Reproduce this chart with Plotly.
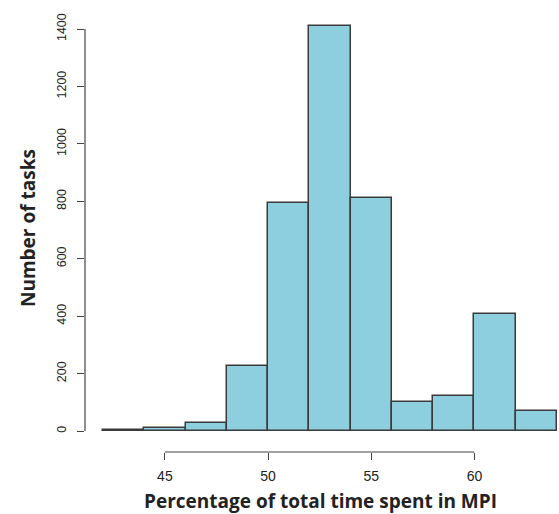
import plotly.graph_objects as go

# Histogram data (bins of width 2 from 42 to 64)
bin_edges = [42, 44, 46, 48, 50, 52, 54, 56, 58, 60, 62, 64]
counts = [4, 10, 28, 226, 793, 1412, 813, 101, 122, 408, 70]
x_ticks = [45, 50, 55, 60]
y_ticks = [0, 200, 400, 600, 800, 1000, 1200, 1400]

centers = [(a + b) / 2 for a, b in zip(bin_edges[:-1], bin_edges[1:])]
widths = [b - a for a, b in zip(bin_edges[:-1], bin_edges[1:])]

fig = go.Figure(go.Bar(
    x=centers, y=counts, width=widths,
    marker=dict(color="#8ECFDF", line=dict(color="#3a3a3a", width=1.5)),
    hoverinfo="x+y",
))

W, H = 559, 514
L, R, T, B = 85, 0, 20, 62

fig.update_layout(
    width=W, height=H,
    margin=dict(l=L, r=R, t=T, b=B, autoexpand=False),
    plot_bgcolor="white", paper_bgcolor="white",
    showlegend=False,
    bargap=0,
    xaxis=dict(range=[41.128, 64.097], tickvals=x_ticks, ticks="outside", ticklen=7,
               tickcolor="#444", tickwidth=1.2, showgrid=False, zeroline=False, showline=False,
               automargin=False, ticklabelstandoff=4,
               tickfont=dict(family="Liberation Sans", size=14, color="#222")),
    yaxis=dict(range=[-73, 1431.5], tickvals=y_ticks, ticks="outside", ticklen=7,
               tickcolor="#444", tickwidth=1.2, showgrid=False, zeroline=False, showline=False,
               tickangle=-90, automargin=False, ticklabelstandoff=6,
               tickfont=dict(family="Liberation Sans", size=12.5, color="#222")),
    shapes=[
        dict(type="line", xref="paper", yref="y", x0=0, x1=0, y0=y_ticks[0], y1=y_ticks[-1],
             line=dict(color="#444", width=1.2)),
        dict(type="line", xref="x", yref="paper", x0=x_ticks[0], x1=x_ticks[-1], y0=0, y1=0,
             line=dict(color="#444", width=1.2)),
    ],
    annotations=[
        dict(text="<b>Number of tasks</b>", xref="paper", yref="paper",
             x=(28 - L) / (W - L - R), y=(H - B - 228) / (H - T - B),
             showarrow=False, textangle=-90, xanchor="center", yanchor="middle",
             font=dict(family="Open Sans", size=19, color="#222")),
        dict(text="<b>Percentage of total time spent in MPI</b>", xref="paper", yref="paper",
             x=(320 - L) / (W - L - R), y=(H - B - 501) / (H - T - B),
             showarrow=False, xanchor="center", yanchor="middle",
             font=dict(family="Open Sans", size=19, color="#222")),
    ],
)

fig.write_html("out.html", config={"displayModeBar": False},
               post_script="document.body.style.margin='0';document.body.style.overflow='hidden';")
